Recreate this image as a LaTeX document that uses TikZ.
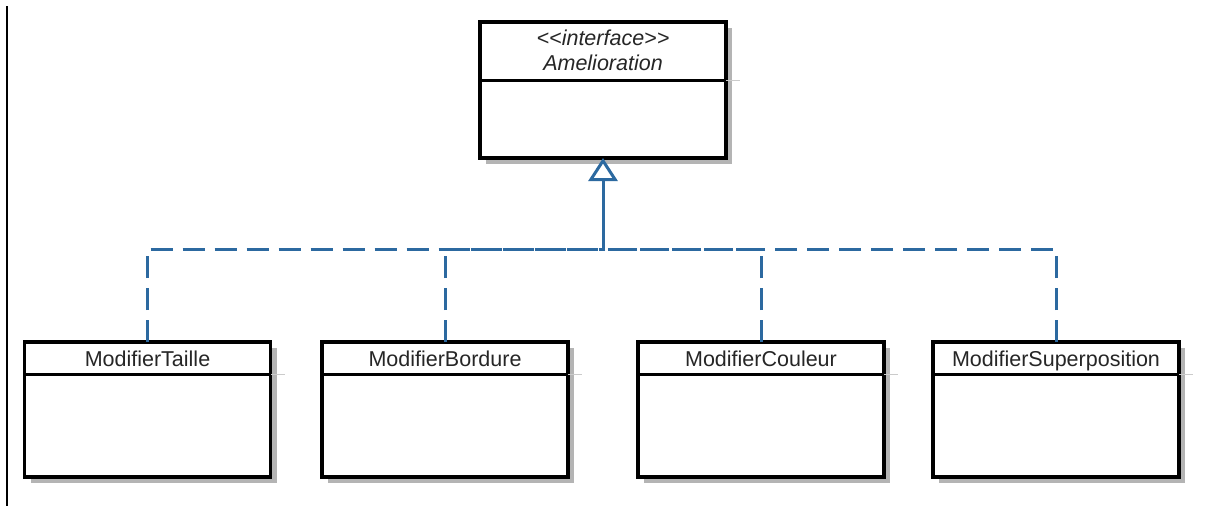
\documentclass[tikz,border=0pt]{standalone}
\usepackage{fontspec}
\setmainfont{Liberation Sans}[Ligatures=NoCommon]
\usetikzlibrary{arrows.meta,shadows}
\definecolor{umlblue}{HTML}{2C69A0}
\definecolor{shadowgray}{HTML}{B4B4B4}
\tikzset{
  classbox/.style={draw=black, line width=3.2pt, fill=white, rectangle,
    minimum width=246pt, inner sep=0pt, outer sep=0pt,
    drop shadow={shadow xshift=6pt, shadow yshift=-6pt, fill=shadowgray, opacity=1}},
  childbox/.style={classbox, minimum height=135pt},
  topbox/.style={classbox, minimum height=136pt},
  divider/.style={draw=black, line width=3pt},
  stub/.style={draw=shadowgray!70, line width=1pt},
  label/.style={font=\fontsize{21.5}{25}\selectfont, text=black!85, inner sep=0pt, anchor=base},
  ilabel/.style={label, font=\fontsize{21.5}{25}\selectfont\itshape},
  realize/.style={draw=umlblue, line width=3pt, dash pattern=on 22pt off 10pt},
  genline/.style={draw=umlblue, line width=3pt,
    -{Triangle[open, length=23pt, width=29pt, line width=3pt]}},
}
\begin{document}
\begin{tikzpicture}[x=1pt, y=-1pt]
\useasboundingbox (0,0) rectangle (1217,506);
\fill[white] (0,0) rectangle (1217,506);
% left margin rule
\draw[line width=1.6pt] (7,6) -- (7,506);

% interface box
\node[topbox] (top) at (603,90) {};
\draw[stub] (top.east |- 0,80) -- ++(14,0);
\draw[divider] (top.west |- 0,80) -- (top.east |- 0,80);
\node[ilabel] (st) at (603,45) {{<}{<}interface{>}{>}};
\node[ilabel] (nm) at (603,70) {Amelioration};

% child boxes
\node[childbox] (c1) at (147.5,409.5) {};
\node[childbox] (c2) at (445,409.5) {};
\node[childbox] (c3) at (761,409.5) {};
\node[childbox] (c4) at (1056,409.5) {};
\foreach \n in {c1,c2,c3,c4}{
  \draw[stub] (\n.east |- 0,374) -- ++(14,0);
  \draw[divider] (\n.west |- 0,374) -- (\n.east |- 0,374);
}
\node[label] (t1) at (147.5,366) {ModifierTaille};
\node[label] (t2) at (445,366) {ModifierBordure};
\node[label] (t3) at (761,366) {ModifierCouleur};
\node[label] (t4) at (1056,366) {ModifierSuperposition};

% connectors
\coordinate (j) at (603,249);
\draw[realize] (c1.north) |- (j);
\draw[realize] (c2.north) |- (j);
\draw[realize] (c3.north) |- (j);
\draw[realize] (c4.north) |- (j);
\draw[genline] (j) -- (top.south);
\end{tikzpicture}
\end{document}
